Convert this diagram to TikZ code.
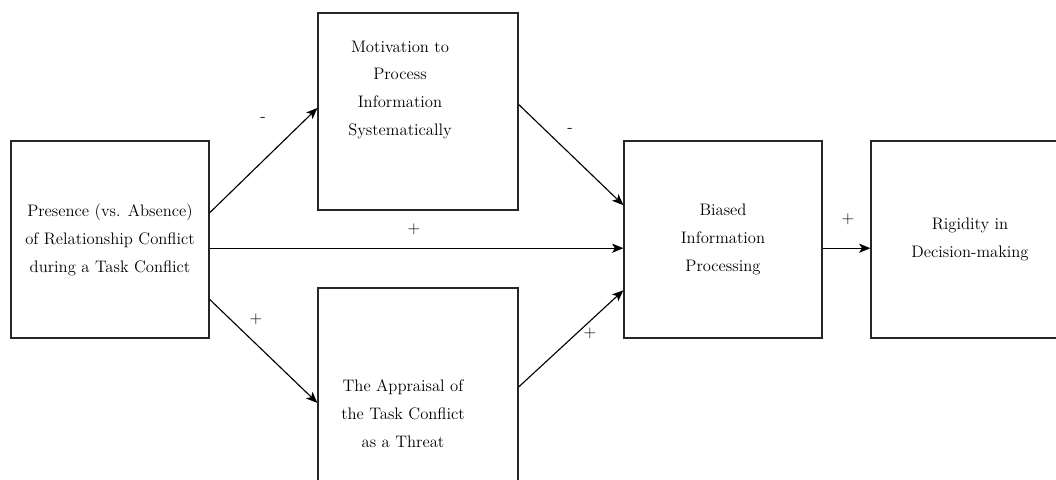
\documentclass[tikz,border=0pt]{standalone}
\usetikzlibrary{arrows.meta}
\tikzset{
  blockbox/.style={draw=black!85, line width=0.85pt, inner sep=0pt},
  blocktext/.style={align=center, font=\fontsize{11.85}{19.9}\selectfont},
  sign/.style={draw=none, font=\fontsize{11.85}{14}\selectfont},
  link/.style={line width=0.8pt, -{Stealth[length=8pt,width=6.5pt,inset=2pt]}}
}
\begin{document}
\begin{tikzpicture}[x=0.025cm,y=-0.025cm]
  %\draw[step=1cm,gray,very thin] (0,0) grid (1056,479);
  \path[use as bounding box, clip] (0,0) rectangle (1056,479);

  \node[blockbox, blocktext, minimum width=4.95cm, minimum height=4.925cm] (pres) at (110,239.5)
    {Presence (vs. Absence)\\of Relationship Conflict\\during a Task Conflict};
  \node[blockbox, minimum width=5cm, minimum height=4.925cm] (motiv) at (418,111.5) {};
  \node[blockbox, minimum width=5cm, minimum height=4.95cm] (apprais) at (418,387) {};
  \node[blockbox, blocktext, minimum width=4.95cm, minimum height=4.925cm] (biased) at (723,239.5)
    {Biased\\Information\\Processing};
  \node[blockbox, blocktext, minimum width=4.95cm, minimum height=4.925cm] (rigid) at (970,239.5)
    {Rigidity in\\Decision-making};

  \node[blocktext] (motivtext) at (400,90) {Motivation to\\Process\\Information\\Systematically};
  \node[blocktext] (appraistext) at (403,414) {The Appraisal of\\the Task Conflict\\as a Threat};

  \draw[link] (pres.15.5) -- (motiv.178);
  \draw[link] (motiv.4.3) -- (biased.161.8);
  \draw[link] (pres.-5.5) -- (biased.185.5);
  \draw[link] (pres.-31) -- (apprais.189.6);
  \draw[link] (apprais.east) -- (biased.207.9);
  \draw[link] (biased.-5.5) -- (rigid.185.5);

  \node[sign] (s1) at (263,119) {-};
  \node[sign] (s2) at (570,130) {-};
  \node[sign] (s3) at (414,229) {+};
  \node[sign] (s4) at (256,319) {+};
  \node[sign] (s5) at (590,333) {+};
  \node[sign] (s6) at (848,219) {+};

\end{tikzpicture}
\end{document}
